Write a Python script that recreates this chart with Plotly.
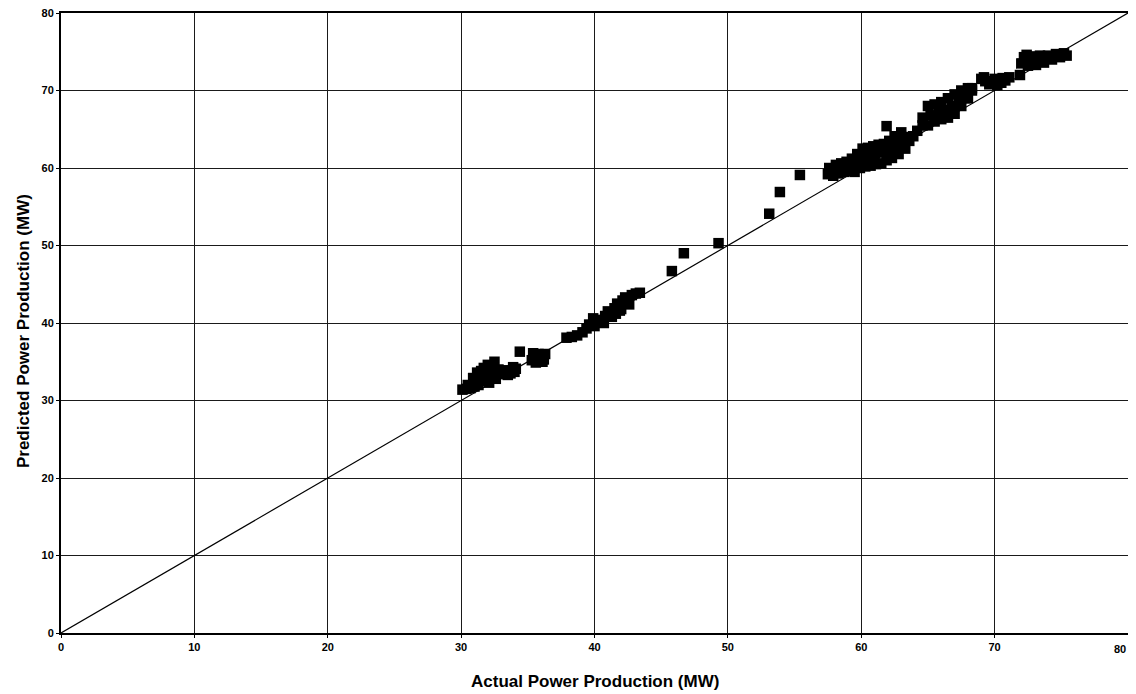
import plotly.graph_objects as go

# Actual vs predicted power production (MW)
actual_mw = [
    30.1, 30.4, 30.7, 31.0, 31.0, 31.3, 31.3, 31.5, 31.6, 31.8, 31.9, 32.1, 32.2, 32.4, 32.5, 32.6, 32.8, 32.9,
    30.5, 30.9, 31.2, 31.7, 32.0, 32.3,
    33.4, 33.7, 34.0, 34.1, 33.5, 33.9,
    34.4,
    35.3, 35.5, 35.8, 36.0, 36.3, 35.6, 36.1, 35.4, 36.2,
    37.9, 38.3, 38.7, 39.1, 39.4,
    39.6, 39.9, 40.2, 40.5, 40.8, 41.0, 41.2, 41.5, 41.7, 41.9, 42.1, 42.3, 42.5, 42.8, 43.1, 43.4, 40.0, 40.7,
    41.3, 41.6, 42.0, 42.6,
    45.8, 46.7, 49.3, 53.1, 53.9, 55.4,
    57.5, 57.6, 57.9, 58.1, 58.3, 58.5, 58.7, 58.9, 59.1, 59.3, 59.5, 59.7, 59.9, 60.1, 60.3, 60.5,
    60.7, 60.9, 61.1, 61.3, 61.5, 61.7, 61.9, 62.1, 62.3, 62.5, 62.8, 63.0, 63.3, 63.6, 63.9, 64.2,
    58.0, 58.6, 59.2, 59.8, 60.4, 61.0, 61.6, 62.2, 62.8, 63.4, 61.9,
    59.0, 59.6, 60.2, 60.8, 61.4, 62.0, 62.6, 63.2,
    64.6, 64.6, 65.0, 65.0, 65.5, 65.5, 66.0, 66.0, 66.5, 66.5, 67.0, 67.0, 67.5, 67.5, 68.0, 68.0, 68.3, 68.3,
    65.2, 65.8, 66.3, 66.8, 67.3, 67.8,
    69.0, 69.3, 69.6, 69.9, 70.2, 70.5, 70.8, 71.1, 69.2, 70.0, 70.6,
    71.9, 72.0, 72.2, 72.5, 72.8, 73.1, 73.4, 73.7, 74.0, 74.3, 74.6, 74.9, 75.2, 75.4, 72.4,
]
predicted_mw = [
    31.4, 31.5, 31.6, 31.8, 32.4, 32.0, 33.2, 33.8, 32.5, 33.0, 34.0, 32.3, 33.5, 34.3, 35.0, 32.8, 34.0, 33.4,
    32.0, 32.9, 33.6, 34.2, 34.6, 33.2,
    33.9, 33.5, 33.7, 34.1, 33.3, 34.3,
    36.3,
    35.2, 35.8, 36.0, 35.5, 36.0, 34.9, 35.0, 36.1, 35.3,
    38.1, 38.2, 38.4, 38.8, 39.3,
    39.8, 40.6, 40.2, 40.4, 40.9, 41.5, 41.1, 41.9, 42.5, 41.6, 42.9, 43.3, 43.0, 43.6, 43.8, 43.9, 39.6, 40.0,
    40.8, 41.2, 41.8, 42.4,
    46.7, 49.0, 50.3, 54.1, 56.9, 59.1,
    59.2, 60.0, 59.0, 60.4, 59.3, 60.6, 59.5, 60.8, 59.6, 61.2, 59.5, 61.8, 60.0, 62.5, 60.2, 62.6,
    60.3, 62.8, 60.5, 63.0, 60.6, 63.1, 61.0, 63.5, 61.3, 64.1, 61.8, 64.6, 62.5, 63.5, 64.1, 64.8,
    59.8, 60.0, 60.2, 60.8, 61.0, 61.7, 62.0, 62.6, 63.2, 64.0, 65.4,
    60.2, 60.5, 61.3, 61.8, 62.2, 62.6, 63.1, 63.8,
    66.5, 65.5, 68.0, 65.5, 68.2, 66.0, 68.5, 66.3, 69.0, 66.5, 69.5, 67.0, 70.0, 68.0, 70.3, 69.0, 70.3, 70.0,
    66.8, 67.2, 67.5, 68.0, 68.8, 69.0,
    71.5, 71.2, 70.8, 70.9, 70.7, 71.0, 71.3, 71.7, 71.7, 71.5, 71.6,
    72.0, 73.5, 74.3, 73.2, 74.4, 73.3, 74.5, 73.6, 74.5, 74.0, 74.7, 74.3, 74.8, 74.5, 74.6,
]
axis_range = [0, 80]
tick_vals = [0, 10, 20, 30, 40, 50, 60, 70, 80]
x_title = "Actual Power Production (MW)"
y_title = "Predicted Power Production (MW)"

fig = go.Figure()
fig.add_trace(go.Scatter(
    x=axis_range, y=axis_range, mode="lines",
    line=dict(color="black", width=1.2), showlegend=False, hoverinfo="skip",
))
fig.add_trace(go.Scatter(
    x=actual_mw, y=predicted_mw, mode="markers",
    marker=dict(symbol="square", size=10.5, color="black", line=dict(width=0)),
    showlegend=False,
))

tick_font = dict(family="Liberation Sans, Arial", size=11, color="black", weight="bold")
axis_common = dict(
    range=axis_range, tickvals=tick_vals, showgrid=True, gridcolor="#1a1a1a", gridwidth=1,
    showline=True, linecolor="black", linewidth=2, mirror=True,
    ticks="outside", ticklen=3, tickcolor="black", zeroline=False, automargin=False,
    ticklabeloverflow="allow", tickfont=tick_font,
)
# last x tick label is placed as an annotation so it stays inside the page edge
x_tick_text = [str(v) for v in tick_vals[:-1]] + [""]
fig.update_xaxes(**axis_common, ticktext=x_tick_text)
fig.update_yaxes(**axis_common)
fig.add_annotation(text=str(tick_vals[-1]), xref="x", yref="paper", x=tick_vals[-1], y=0,
                   xanchor="right", yanchor="top", xshift=0, yshift=-8,
                   showarrow=False, font=tick_font)

title_font = dict(family="Liberation Sans, Arial", size=17, color="black", weight="bold")
fig.add_annotation(text=x_title, xref="paper", yref="paper", x=0.5, y=0,
                   xanchor="center", yanchor="middle",
                   yshift=-48, showarrow=False, font=title_font)
fig.add_annotation(text=y_title, xref="paper", yref="paper", x=0, y=0.487,
                   xanchor="center", yanchor="middle",
                   xshift=-38, textangle=-90, showarrow=False, font=title_font)

fig.update_layout(
    width=1140, height=686,
    margin=dict(l=53, r=20, t=5, b=61),
    paper_bgcolor="white", plot_bgcolor="white",
)
fig.write_html("out.html")
